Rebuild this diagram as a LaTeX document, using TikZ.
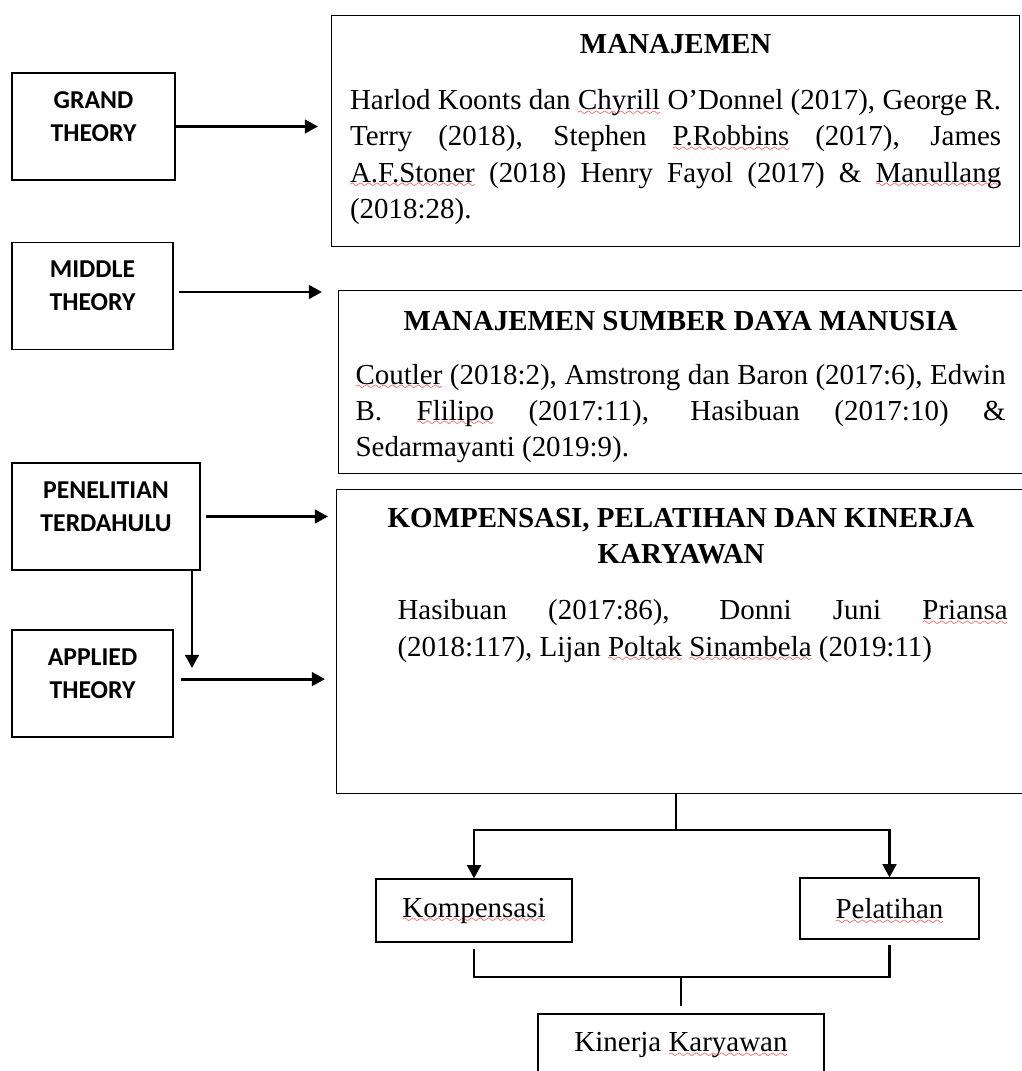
\documentclass[tikz,border=0pt]{standalone}
\usepackage{fontspec}
\setmainfont{Liberation Serif}
\newfontfamily\carlito{Carlito}
\usetikzlibrary{arrows.meta}

% red wavy spell-check line
\font\wavefont=lasy8
\newcommand{\spell}[1]{\leavevmode\setbox0\hbox{#1}%
  \rlap{\smash{\textcolor{red}{\lower4pt\hbox to\wd0{\xleaders\hbox{\wavefont\char58}\hfil}}}}\box0\relax}
\newcommand{\twolines}[2]{\begin{tabular}{@{}c@{}}#1\\#2\\[0.42cm]\end{tabular}}

\tikzset{
  lbox/.style={draw, line width=0.8pt, minimum height=2.675cm,
    font=\carlito\bfseries\fontsize{18.3pt}{23.5pt}\selectfont},
  rbox/.style={draw, line width=0.8pt, anchor=north west, inner ysep=0pt,
    font=\fontsize{20.6pt}{25.8pt}\selectfont},
  sbox/.style={draw, line width=0.8pt, minimum height=1.575cm,
    font=\fontsize{20.6pt}{25.8pt}\selectfont},
  arr/.style={line width=2pt, -{Triangle[length=0.33cm,width=0.34cm]}},
  link/.style={line width=2pt},
}

\begin{document}
\begin{tikzpicture}[x=0.025cm, y=-0.025cm]
    \useasboundingbox (0,0) rectangle (1021,1071);

    % theory boxes
    \node[lbox, minimum width=4.075cm] (grand) at (93.5,126.5) {\twolines{GRAND}{THEORY}};
    \node[lbox, minimum width=4.025cm] (middle) at (92.5,296) {\twolines{MIDDLE}{THEORY}};
    \node[lbox, minimum width=4.7cm] (penelitian) at (106,516.5) {\twolines{PENELITIAN}{TERDAHULU}};
    \node[lbox, minimum width=4.025cm] (applied) at (92.5,683.5) {\twolines{APPLIED}{THEORY}};

    % literature boxes
    \node[rbox, inner xsep=0.4625cm] (manaj) at (331,15) {\parbox[t][5.775cm][t]{16.275cm}{%
        {\centering\bfseries\rule{0pt}{0.95cm}MANAJEMEN\par}
        \vspace{0.49cm}
        Harlod Koonts dan \spell{Chyrill} O’Donnel (2017), George R.\linebreak
        Terry (2018), Stephen \spell{P.Robbins} (2017), James\linebreak
        \spell{A.F.Stoner} (2018) Henry Fayol (2017) \& \spell{Manullang}\linebreak
        (2018:28).}};
    \node[rbox, inner xsep=0.425cm] (msdm) at (338,290) {\parbox[t][4.575cm][t]{16.25cm}{%
        {\centering\bfseries\rule{0pt}{0.99cm}MANAJEMEN SUMBER DAYA MANUSIA\par}
        \vspace{0.44cm}
        \spell{Coutler} (2018:2), Amstrong dan Baron (2017:6), Edwin\linebreak
        B. \spell{Flilipo} (2017:11), Hasibuan (2017:10) \&\linebreak
        Sedarmayanti (2019:9).}};
    \node[rbox, inner xsep=0.45cm] (kpk) at (336,489) {\parbox[t][7.6cm][t]{16.325cm}{%
        {\centering\bfseries\rule{0pt}{0.95cm}KOMPENSASI, PELATIHAN DAN KINERJA\\ KARYAWAN\par}
        \vspace{0.49cm}
        {\leftskip=1.075cm Hasibuan (2017:86), Donni Juni \spell{Priansa}\linebreak
        (2018:117), Lijan \spell{Poltak} \spell{Sinambela} (2019:11)\par}}};

    % variables
    \node[sbox, minimum width=4.9cm] (komp) at (474,910.5) {\spell{Kompensasi}};
    \node[sbox, minimum width=4.475cm, minimum height=1.525cm] (pel) at (889.5,908.5) {\spell{Pelatihan}};
    \node[sbox, minimum width=7.15cm] (kin) at (681,1045.5) {Kinerja \spell{Karyawan}};

    \coordinate (drop) at (192,668);
    \coordinate (split) at (676,830);
    \coordinate (join) at (681,977);

    \draw[arr, shorten >=0.325cm] (grand.east) -- (grand.east -| manaj.west);
    \draw[arr, shorten <=0.125cm, shorten >=0.4cm] ([yshift=0.1cm]middle.east) -- ([yshift=0.1cm]middle.east -| msdm.west);
    \draw[arr, shorten <=0.125cm, shorten >=0.2cm] (penelitian.east) -- (penelitian.east -| kpk.west);
    \draw[arr, shorten <=0.175cm, shorten >=0.275cm] ([yshift=0.11cm]applied.east) -- ([yshift=0.11cm]applied.east -| kpk.west);
    \draw[arr] (penelitian.south -| drop) -- (drop);

    \draw[link] (kpk.south -| split) -- (split);
    \draw[arr] (split) -| (komp.north);
    \draw[arr] (split) -| (pel.north);
    \draw[link, shorten <=0.15cm] (komp.south) |- (join);
    \draw[link, shorten <=0.125cm] (pel.south) |- (join);
    \draw[link, shorten >=0.175cm] (join) -- (kin.north);
\end{tikzpicture}
\end{document}
